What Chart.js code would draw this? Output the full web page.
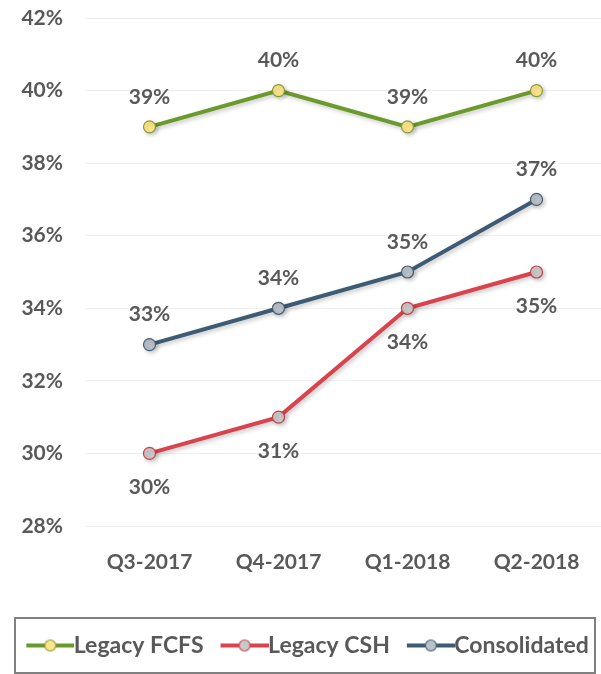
<!DOCTYPE html>
<html>
<head>
<meta charset="utf-8">
<script src="https://cdn.jsdelivr.net/npm/chart.js"></script>
<style>
  html, body { margin: 0; padding: 0; background: #ffffff; overflow: hidden; }
  #wrap { width: 601px; height: 674px; position: relative; }
</style>
</head>
<body>
<div id="wrap"><canvas id="chart"></canvas></div>
<script>
// Chart data
const quarters = ['Q3-2017', 'Q4-2017', 'Q1-2018', 'Q2-2018'];
const legacyFcfs = [39, 40, 39, 40];
const legacyCsh = [30, 31, 34, 35];
const consolidated = [33, 34, 35, 37];
const yTicks = [28, 30, 32, 34, 36, 38, 40, 42];

const textColor = '#595959';
const fontFamily = 'Lato, "Open Sans", sans-serif';

// legend marker: short line with a circle in the middle
// the image is centred on the legend box, so its left part stays empty
function makeMarker(lineColor, fill, border) {
    const c = document.createElement('canvas');
    c.width = 60;
    c.height = 16;
    const ctx = c.getContext('2d');
    ctx.strokeStyle = lineColor;
    ctx.lineWidth = 4;
    ctx.beginPath();
    ctx.moveTo(12, 8);
    ctx.lineTo(60, 8);
    ctx.stroke();
    ctx.beginPath();
    ctx.arc(36, 8, 5.5, 0, Math.PI * 2);
    ctx.fillStyle = fill;
    ctx.fill();
    ctx.strokeStyle = border;
    ctx.lineWidth = 1.2;
    ctx.stroke();
    return c;
}

const series = [
    { label: 'Legacy FCFS', data: legacyFcfs, color: '#6B9A2A', fill: '#FBE68A', pointBorder: '#8E9A3A', below: false },
    { label: 'Legacy CSH', data: legacyCsh, color: '#D8434D', fill: '#C9C9C9', pointBorder: '#C9434D', below: true },
    { label: 'Consolidated', data: consolidated, color: '#3F5B74', fill: '#B9C1CA', pointBorder: '#4A5E70', below: false }
];

// soft shadow under the lines
const shadowPlugin = {
    id: 'shadow',
    beforeDatasetsDraw(chart) {
        const ctx = chart.ctx;
        ctx.save();
        ctx.shadowColor = 'rgba(0,0,0,0.22)';
        ctx.shadowBlur = 4;
        ctx.shadowOffsetX = 2;
        ctx.shadowOffsetY = 2;
    },
    afterDatasetsDraw(chart) {
        chart.ctx.restore();
    }
};

// value labels above/below points
const valueLabels = {
    id: 'valueLabels',
    afterDraw(chart) {
        const ctx = chart.ctx;
        ctx.save();
        ctx.font = 'bold 21px ' + fontFamily;
        ctx.fillStyle = textColor;
        ctx.textAlign = 'center';
        ctx.textBaseline = 'middle';
        chart.data.datasets.forEach((ds, i) => {
            const meta = chart.getDatasetMeta(i);
            meta.data.forEach((pt, j) => {
                const dy = series[i].below ? 34 : -30;
                ctx.fillText(ds.data[j] + '%', pt.x, pt.y + dy);
            });
        });
        ctx.restore();
    }
};

// nudge the legend row a bit to the right, then frame it
const legendFrame = {
    id: 'legendFrame',
    afterLayout(chart) {
        if (chart.legend) {
            chart.legend.left += 7;
            chart.legend.right += 7;
        }
    },
    afterDraw(chart) {
        const lg = chart.legend;
        if (!lg) return;
        const ctx = chart.ctx;
        ctx.save();
        ctx.strokeStyle = '#808080';
        ctx.lineWidth = 2;
        ctx.strokeRect(15, lg.top + 1, 580, lg.height + 5);
        ctx.restore();
    }
};

new Chart(document.getElementById('chart'), {
    type: 'line',
    data: {
        labels: quarters,
        datasets: series.map(s => ({
            label: s.label,
            data: s.data,
            borderColor: s.color,
            borderWidth: 4,
            backgroundColor: s.fill,
            pointBackgroundColor: s.fill,
            pointBorderColor: s.pointBorder,
            pointBorderWidth: 1.2,
            pointRadius: 6,
            pointStyle: 'circle',
            tension: 0,
            fill: false
        }))
    },
    options: {
        responsive: true,
        maintainAspectRatio: false,
        animation: false,
        layout: {
            autoPadding: false,
            padding: { left: 0, right: 0, top: 18, bottom: 7 }
        },
        plugins: {
            legend: {
                display: true,
                position: 'bottom',
                labels: {
                    usePointStyle: true,
                    pointStyleWidth: 36,
                    color: textColor,
                    font: { family: fontFamily, size: 23, weight: 'bold' },
                    padding: 17,
                    generateLabels(chart) {
                        return series.map((s, i) => ({
                            text: s.label,
                            pointStyle: makeMarker(s.color, s.fill, s.pointBorder),
                            fontColor: textColor,
                            lineWidth: 0,
                            hidden: false,
                            datasetIndex: i
                        }));
                    }
                }
            },
            tooltip: { enabled: false }
        },
        scales: {
            x: {
                offset: true,
                grid: { display: false },
                border: { display: false },
                ticks: {
                    color: textColor,
                    font: { family: fontFamily, size: 21, weight: 'bold' },
                    padding: 16
                },
                afterFit(axis) {
                    axis.paddingLeft = 0;
                    axis.paddingRight = 0;
                    axis.paddingTop = 0;
                    axis.paddingBottom = 0;
                    axis.height = 91;
                }
            },
            y: {
                min: 28,
                max: 42,
                afterBuildTicks(axis) {
                    axis.ticks = yTicks.map(v => ({ value: v }));
                },
                grid: { color: '#f0f0f0', lineWidth: 1, drawTicks: false },
                border: { display: false },
                ticks: {
                    color: textColor,
                    font: { family: fontFamily, size: 21, weight: 'bold' },
                    padding: 22,
                    callback: v => v + '%'
                },
                afterFit(axis) {
                    axis.paddingTop = 0;
                    axis.paddingBottom = 0;
                    axis.paddingLeft = 0;
                    axis.paddingRight = 0;
                    axis.width = 85;
                }
            }
        }
    },
    plugins: [shadowPlugin, valueLabels, legendFrame]
});
</script>
</body>
</html>
